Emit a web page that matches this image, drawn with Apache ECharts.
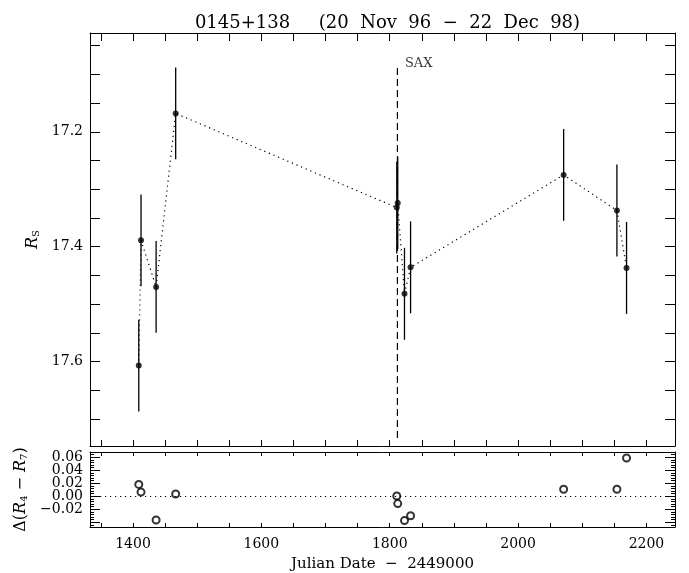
<!DOCTYPE html>
<html><head><meta charset="utf-8">
<script src="https://cdn.jsdelivr.net/npm/echarts@6/dist/echarts.min.js"></script>
<style>html,body{margin:0;padding:0;background:#fff}#c{width:689px;height:573px}</style>
</head><body><div id="c"></div>
<script>
// ---- data ----
const julianDate = [1409, 1412.5, 1436, 1466.5, 1811, 1812.5, 1823, 1832.5, 2071, 2154, 2169];
const rMag       = [17.607, 17.389, 17.470, 17.168, 17.332, 17.324, 17.482, 17.436, 17.275, 17.337, 17.437];
const rMagErr    = [0.08, 0.08, 0.08, 0.08, 0.08, 0.08, 0.08, 0.08, 0.08, 0.08, 0.08];
const deltaR     = [0.0182, 0.0064, -0.0366, 0.0034, 0.0004, -0.0114, -0.0375, -0.0300, 0.0108, 0.0108, 0.0588];

const xRange = [1333, 2244.5];
const magRange = [17.028, 17.747];
const deltaRange = [-0.0474, 0.0681];

const xLabelTicks = [1400, 1600, 1800, 2000, 2200];
const xTicks = [1350, 1400, 1450, 1500, 1550, 1600, 1650, 1700, 1750, 1800, 1850, 1900, 1950, 2000, 2050, 2100, 2150, 2200];
const magLabelTicks = [17.2, 17.4, 17.6];
const magTicks = [17.05, 17.10, 17.15, 17.20, 17.25, 17.30, 17.35, 17.40, 17.45, 17.50, 17.55, 17.60, 17.65, 17.70];
const deltaLabelsA = [0.06, 0.02, -0.02];
const deltaLabelsB = [0.04, 0.00];
const deltaMajorTicks = [-0.04, -0.02, 0.00, 0.02, 0.04, 0.06];
const deltaMinorTicks = [-0.044, -0.036, -0.032, -0.028, -0.024, -0.016, -0.012, -0.008, -0.004,
  0.004, 0.008, 0.012, 0.016, 0.024, 0.028, 0.032, 0.036, 0.044, 0.048, 0.052, 0.056, 0.064];

const saxDate = 1812;
const saxMagRange = [17.089, 17.733];
const saxLabel = 'SAX';

const titleText = '0145+138     (20  Nov  96  \u2212  22  Dec  98)';
const xName = 'Julian Date  \u2212  2449000';

// ---- chart ----
const FONT = 'DejaVu Serif';
const BLACK = '#000';
const chart = echarts.init(document.getElementById('c'), null, {renderer: 'canvas'});

function xAxis(grid, position, len, opts) {
  return Object.assign({
    type: 'value', gridIndex: grid, position: position, min: xRange[0], max: xRange[1],
    axisLine: {show: true, onZero: false, lineStyle: {color: BLACK, width: 1}},
    axisTick: {show: true, inside: true, length: len, customValues: xTicks, lineStyle: {color: BLACK}},
    axisLabel: {show: false},
    splitLine: {show: false}
  }, opts || {});
}
function yAxis(grid, position, range, ticks, len, opts) {
  return Object.assign({
    type: 'value', gridIndex: grid, position: position, min: range[0], max: range[1],
    axisLine: {show: true, onZero: false, lineStyle: {color: BLACK, width: 1}},
    axisTick: {show: true, inside: true, length: len, customValues: ticks, lineStyle: {color: BLACK}},
    axisLabel: {show: false},
    splitLine: {show: false}
  }, opts || {});
}
const deltaFmt = v => (v < -1e-9 ? '\u2212' : '') + Math.abs(v).toFixed(2);
const deltaLabel = vals => ({show: true, customValues: vals, margin: 7, color: BLACK, fontFamily: FONT, fontSize: 14,
  hideOverlap: false, formatter: deltaFmt});

const errData = julianDate.map((d, i) => [d, rMag[i], rMagErr[i]]);
const magPts = julianDate.map((d, i) => [d, rMag[i]]);
const dPts = julianDate.map((d, i) => [d, deltaR[i]]);

const option = {
  backgroundColor: '#fff',
  animation: false,
  title: {
    text: titleText, left: 382.5, textAlign: 'center', top: 9,
    textStyle: {fontFamily: FONT, fontSize: 18, fontWeight: 'normal', color: BLACK}
  },
  grid: [
    {left: 90, top: 33, width: 585, height: 413},
    {left: 90, top: 452, width: 585, height: 78}
  ],
  xAxis: [
    xAxis(0, 'bottom', 6),
    xAxis(0, 'top', 8),
    xAxis(1, 'bottom', 4, {
      axisLabel: {show: true, customValues: xLabelTicks, margin: 10, color: BLACK, fontFamily: FONT, fontSize: 14,
        formatter: v => String(Math.round(v))},
      name: xName, nameLocation: 'middle', nameGap: 30,
      nameTextStyle: {fontFamily: FONT, fontSize: 15, color: BLACK}
    }),
    xAxis(1, 'top', 4)
  ],
  yAxis: [
    yAxis(0, 'left', magRange, magTicks, 10, {
      inverse: true,
      axisLabel: {show: true, customValues: magLabelTicks, margin: 7, color: BLACK, fontFamily: FONT, fontSize: 14,
        formatter: v => v.toFixed(1)},
      name: '{r|R}{s|S}', nameLocation: 'middle', nameGap: 43, nameRotate: 90,
      nameTextStyle: {color: BLACK, rich: {
        r: {fontFamily: FONT, fontStyle: 'italic', fontSize: 16, color: BLACK},
        s: {fontFamily: FONT, fontSize: 10, color: BLACK, padding: [7, 0, 0, 0]}
      }}
    }),
    yAxis(0, 'right', magRange, magTicks, 10, {inverse: true}),
    yAxis(1, 'left', deltaRange, deltaMajorTicks, 10, {
      axisLabel: deltaLabel(deltaLabelsA),
      name: '{t|\u0394(}{r|R}{s|4}{t| \u2212 }{r|R}{s|7}{t|)}', nameLocation: 'middle', nameGap: 52, nameRotate: 90,
      nameTextStyle: {color: BLACK, rich: {
        t: {fontFamily: FONT, fontSize: 16, color: BLACK},
        r: {fontFamily: FONT, fontStyle: 'italic', fontSize: 16, color: BLACK},
        s: {fontFamily: FONT, fontSize: 10, color: BLACK, padding: [7, 0, 0, 0]}
      }}
    }),
    yAxis(1, 'left', deltaRange, deltaMinorTicks, 4, {axisLine: {show: false}, axisLabel: deltaLabel(deltaLabelsB)}),
    yAxis(1, 'right', deltaRange, deltaMajorTicks, 10),
    yAxis(1, 'right', deltaRange, deltaMinorTicks, 4, {axisLine: {show: false}})
  ],
  series: [
    {
      type: 'line', xAxisIndex: 0, yAxisIndex: 0, data: magPts,
      symbol: 'none', lineStyle: {color: BLACK, width: 1.2, type: [1.2, 3.8]}, z: 2
    },
    {
      type: 'custom', xAxisIndex: 0, yAxisIndex: 0, data: errData,
      renderItem: function (params, api) {
        const x = api.value(0), y = api.value(1), e = api.value(2);
        const p1 = api.coord([x, y - e]);
        const p2 = api.coord([x, y + e]);
        return {type: 'line', shape: {x1: p1[0], y1: p1[1], x2: p2[0], y2: p2[1]},
          style: {stroke: BLACK, lineWidth: 1.3}};
      },
      z: 3
    },
    {
      type: 'scatter', xAxisIndex: 0, yAxisIndex: 0, data: magPts,
      symbol: 'circle', symbolSize: 6, itemStyle: {color: BLACK}, z: 4
    },
    {
      type: 'line', xAxisIndex: 0, yAxisIndex: 0,
      data: [[saxDate, saxMagRange[0]], [saxDate, saxMagRange[1]]],
      symbol: 'none', lineStyle: {color: BLACK, width: 1.2, type: [7, 4]}, z: 1
    },
    {
      type: 'scatter', xAxisIndex: 0, yAxisIndex: 0,
      data: [[saxDate, saxMagRange[0]]],
      symbol: 'circle', symbolSize: 1, itemStyle: {color: 'rgba(0,0,0,0)'},
      label: {show: true, formatter: saxLabel, position: 'right', distance: 7, offset: [0, -4],
        fontFamily: FONT, fontSize: 13, color: BLACK},
      z: 5
    },
    {
      type: 'scatter', xAxisIndex: 2, yAxisIndex: 2, data: dPts,
      symbol: 'emptyCircle', symbolSize: 7,
      itemStyle: {color: BLACK, borderColor: BLACK, borderWidth: 1},
      markLine: {
        silent: true, symbol: 'none', label: {show: false},
        lineStyle: {color: BLACK, width: 1.2, type: [1.2, 3.8]},
        data: [{yAxis: 0}]
      }
    }
  ]
};
chart.setOption(option);
</script></body></html>
